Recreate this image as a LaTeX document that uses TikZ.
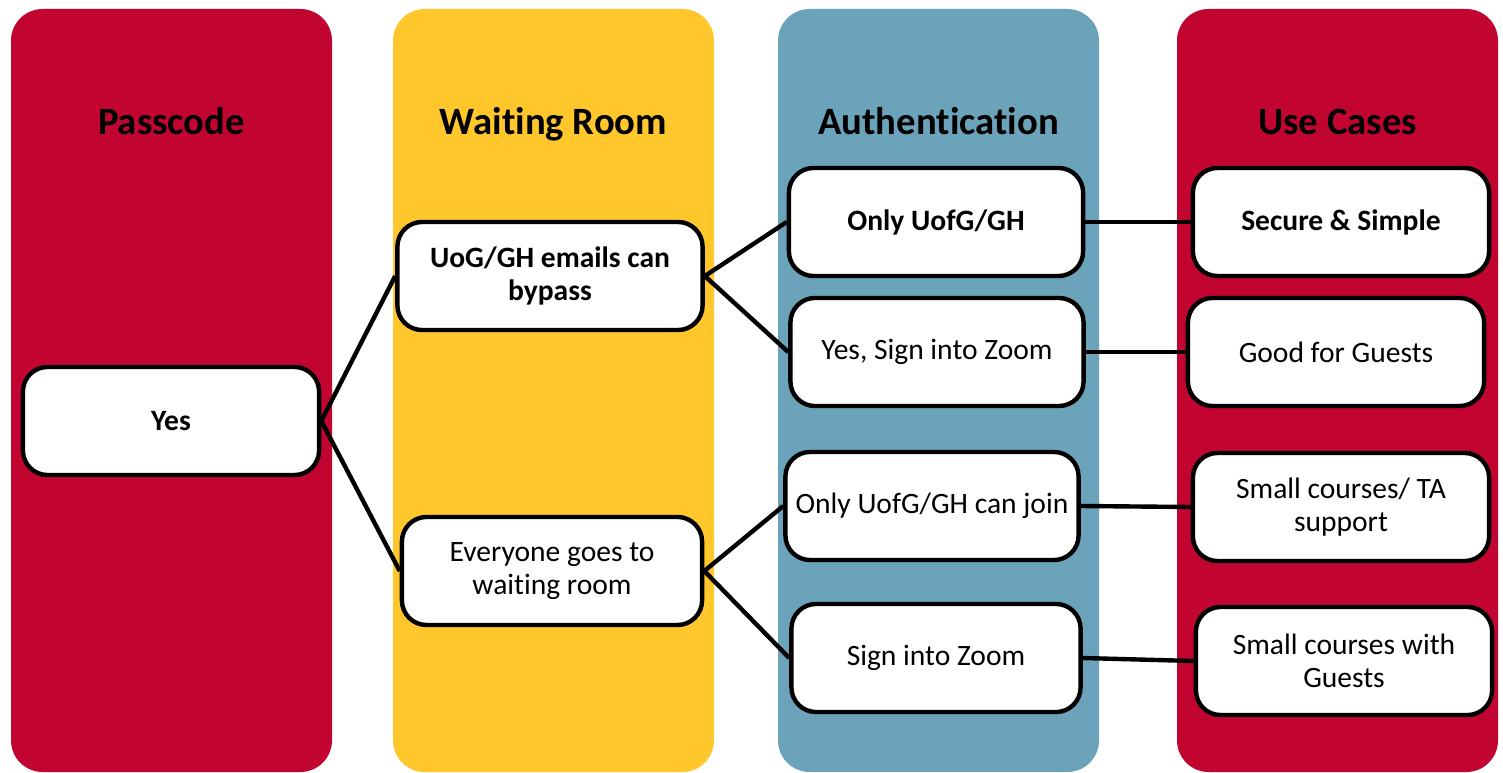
\documentclass[tikz,border=0pt]{standalone}
\usepackage{fontspec}
\setmainfont{Carlito}[Ligatures=NoCommon]
\usepackage{tikz}
\usetikzlibrary{positioning, calc}
\definecolor{uofgred}{RGB}{193,5,48}
\definecolor{uofgyellow}{RGB}{255,199,44}
\definecolor{uofgblue}{RGB}{106,163,186}
\tikzset{box/.style = {draw, line width=1.25pt, fill=white, rounded corners=7pt, align=center,
                       minimum width=2.96cm, minimum height=1.08cm, inner sep=1pt,
                       font=\fontsize{8.4}{9.2}\selectfont},
         heading/.style = {anchor=base, font=\fontsize{11}{13}\selectfont\bfseries},
         link/.style = {line width=1.25pt}}

\begin{document}
\begin{tikzpicture}[x=0.01cm, y=-0.01cm]
            \useasboundingbox (0,0) rectangle (1503,773);
            \foreach \px/\col/\title [count=\i] in {11/uofgred/Passcode, 393/uofgyellow/Waiting Room,
                                                    778/uofgblue/Authentication, 1177/uofgred/Use Cases}{
                \fill[\col, rounded corners=9pt] (\px,9) rectangle ++(321,763);
                \node[heading] (t\i) at (\px+160.5,135) {\title};
            }
            \node[box] (yes) at (171,421) {\textbf{Yes}};
            \node[box, minimum width=3.05cm] (bypass) at (550,276) {\textbf{UoG/GH emails can}\\\textbf{bypass}};
            \node[box, minimum width=3cm] (everyone) at (552,571) {Everyone goes to\\waiting room};
            \node[box, minimum width=2.94cm] (only) at (936,222) {\textbf{Only UofG/GH}};
            \node[box, minimum width=2.93cm] (signyes) at (937,352) {Yes, Sign into Zoom};
            \node[box, minimum width=2.93cm] (join) at (932,506) {Only UofG/GH can join};
            \node[box, minimum width=2.89cm] (sign) at (936,658) {Sign into Zoom};
            \node[box] (secure) at (1341,222) {\textbf{Secure \& Simple}};
            \node[box] (guests) at (1336,352) {Good for Guests};
            \node[box] (small) at (1341,507) {Small courses/ TA\\support};
            \node[box] (smallg) at (1344,661) {Small courses with\\Guests};
            \foreach \a/\b in {yes/bypass, yes/everyone, bypass/only, bypass/signyes,
                               everyone/join, everyone/sign, only/secure, signyes/guests,
                               join/small, sign/smallg}
                \draw[link] (\a.east) -- (\b.west);
        \end{tikzpicture}
\end{document}
